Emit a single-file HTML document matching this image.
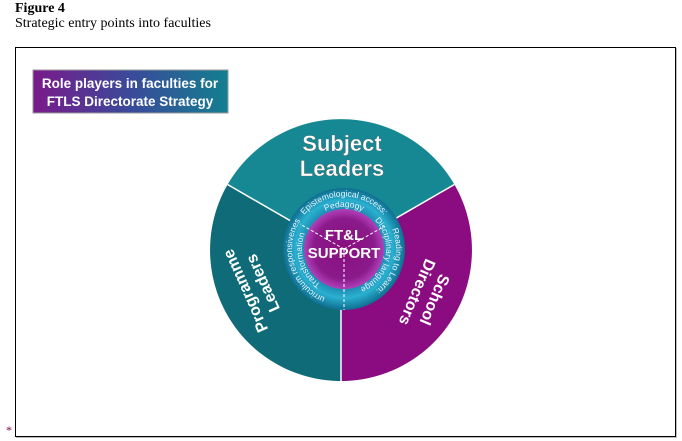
<!DOCTYPE html>
<html><head><meta charset="utf-8"><style>
body{margin:0;background:#fff;width:682px;height:441px;overflow:hidden;position:relative;font-family:"Liberation Serif",serif}
.t1{position:absolute;left:15px;top:1px;font-weight:bold;font-size:14px}
.t2{position:absolute;left:15px;top:16px;font-size:14px}
.frame{position:absolute;left:15px;top:47px;width:659px;height:388px;border:1.5px solid #000;box-shadow:1px 1px 0 #bbb}
.star{position:absolute;left:6px;top:423px;color:#804;font-size:12px}
</style></head><body>
<div class="t1">Figure 4</div>
<div class="t2">Strategic entry points into faculties</div>
<div class="frame"></div>
<div class="star">*</div>
<svg width="682" height="441" style="position:absolute;left:0;top:0" font-family="Liberation Sans, sans-serif">
<defs>
<linearGradient id="tb" x1="0" x2="1"><stop offset="0" stop-color="#7a1a8a"/><stop offset="0.5" stop-color="#3a4a9a"/><stop offset="1" stop-color="#137f90"/></linearGradient>
<radialGradient id="ring"><stop offset="0.6" stop-color="#1a7fa8"/><stop offset="0.8" stop-color="#2ab0d0"/><stop offset="1" stop-color="#0f6e90"/></radialGradient>
<radialGradient id="core"><stop offset="0" stop-color="#8a0e80"/><stop offset="0.75" stop-color="#8a1a8a"/><stop offset="1" stop-color="#b040b8"/></radialGradient>
<path id="arcTop" d="M295,231 A52,52 0 0 1 393,231"/>
<path id="arcTop2" d="M304.5,234.6 A42,42 0 0 1 383.5,234.6"/>
<path id="arcR" d="M383.8,215.6 A52,52 0 0 1 361.8,297.9"/>
<path id="arcR2" d="M376.2,222 A42,42 0 0 1 358.4,288.5"/>
<path id="arcL" d="M326.2,297.9 A52,52 0 0 1 301.4,219.2"/>
<path id="arcL2" d="M329.6,288.5 A42,42 0 0 1 309.6,224.9"/>
</defs>
<rect x="33" y="70" width="195" height="43" fill="url(#tb)" stroke="#999" stroke-width="1"/>
<text x="130" y="88" fill="#fff" font-size="13.5" font-weight="bold" text-anchor="middle">Role players in faculties for</text>
<text x="130" y="106" fill="#fff" font-size="13.5" font-weight="bold" text-anchor="middle">FTLS Directorate Strategy</text>
<path d="M341,250 L227.6,184.5 A131,131 0 0 1 454.4,184.5 Z" fill="#168894"/>
<path d="M341,250 L454.4,184.5 A131,131 0 0 1 341,381 Z" fill="#8a0c80"/>
<path d="M341,250 L341,381 A131,131 0 0 1 227.6,184.5 Z" fill="#0f6b78"/>
<g stroke="#fff" stroke-width="1.5"><line x1="341" y1="250" x2="227.6" y2="184.5"/><line x1="341" y1="250" x2="454.4" y2="184.5"/><line x1="341" y1="250" x2="341" y2="381"/></g>
<circle cx="344" cy="249" r="61" fill="url(#ring)"/>
<circle cx="344" cy="249" r="40" fill="url(#core)"/>
<g stroke="#fff" stroke-width="1" stroke-dasharray="3,2"><line x1="344" y1="249" x2="300" y2="224"/><line x1="344" y1="249" x2="385" y2="226"/><line x1="344" y1="249" x2="344" y2="310"/></g>
<text fill="#fff" font-size="22" font-weight="bold" text-anchor="middle" stroke="#555" stroke-width="0.3"><tspan x="342" y="151">Subject</tspan><tspan x="342" y="176">Leaders</tspan></text>
<text fill="#fff" font-size="15" font-weight="bold" text-anchor="middle"><tspan x="344" y="240">FT&amp;L</tspan><tspan x="344" y="258">SUPPORT</tspan></text>
<text fill="#fff" font-size="16" font-weight="bold" text-anchor="middle" transform="translate(426,296) rotate(113)"><tspan x="0" y="-4">School</tspan><tspan x="0" y="15">Directors</tspan></text>
<text fill="#fff" font-size="16" font-weight="bold" text-anchor="middle" transform="translate(254,287) rotate(-114)"><tspan x="0" y="-4">Programme</tspan><tspan x="0" y="15">Leaders</tspan></text>
<g fill="#e8f4ff" font-size="8.5" text-anchor="middle">
<text><textPath href="#arcTop" startOffset="50%">Epistemological access:</textPath></text>
<text><textPath href="#arcTop2" startOffset="50%">Pedagogy</textPath></text>
<text><textPath href="#arcR" startOffset="50%">Reading to Learn:</textPath></text>
<text><textPath href="#arcR2" startOffset="50%">Disciplinary languages</textPath></text>
<text><textPath href="#arcL" startOffset="50%">Curriculum responsiveness:</textPath></text>
<text><textPath href="#arcL2" startOffset="50%">Transformation</textPath></text>
</g>
</svg>
</body></html>
